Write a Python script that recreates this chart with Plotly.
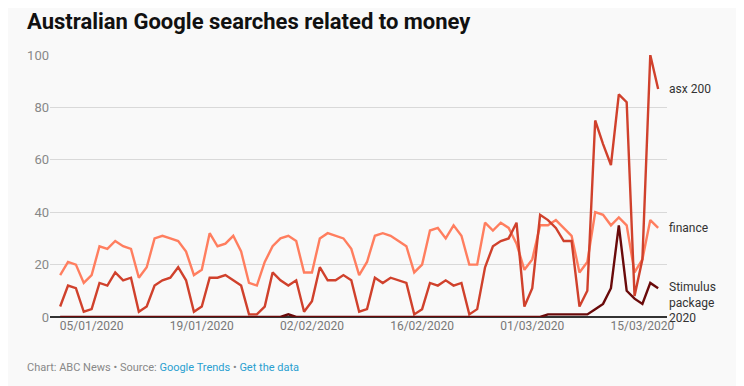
import plotly.graph_objects as go
import pandas as pd

dates = pd.date_range("2020-01-01", "2020-03-17", freq="D")

finance = [16, 21, 20, 13, 16, 27, 26, 29, 27, 26, 15, 19, 30, 31, 30, 29, 25, 16, 18, 32, 27, 28, 31, 25, 13, 12,
           21, 27, 30, 31, 29, 17, 17, 30, 32, 31, 30, 26, 16,
           21, 31, 32, 31, 29, 27, 17, 20, 33, 34, 30, 35, 31,
           20, 20, 36, 33, 36, 34, 28, 18, 22, 35, 35, 37,
           34, 31, 17, 21, 40, 39, 35, 38, 35, 17, 22, 37, 34]

asx200 = [4, 12, 11, 2, 3, 13, 12, 17, 14, 15, 2, 4, 12,
          14, 15, 19, 14, 2, 4, 15, 15, 16, 14, 12, 1, 1,
          4, 17, 14, 12, 14, 2, 6, 19, 14, 14, 16, 14, 2,
          3, 15, 13, 15, 14, 13, 1, 3, 13, 12, 14, 12, 13,
          1, 3, 19, 27, 29, 30, 36, 4, 11, 39, 37, 34,
          29, 29, 4, 10, 75, 66, 58, 85, 82, 8, 22, 100, 87]

stimulus = [0] * 29 + [1] + [0] * 32 + [1, 1, 1, 1, 1, 1, 3, 5, 11, 35, 10, 7, 5, 13, 11]

series_names = ["finance", "asx 200", "Stimulus<br>package<br>2020"]
series_values = [finance, asx200, stimulus]
series_colors = ["#FF7E5F", "#D0412C", "#6A0A0A"]

y_ticks = [0, 20, 40, 60, 80, 100]

fig = go.Figure()
for name, vals, col in zip(series_names, series_values, series_colors):
    fig.add_trace(go.Scatter(x=dates, y=vals, mode="lines", name=name,
                             line=dict(color=col, width=2.4), cliponaxis=False,
                             hoverinfo="skip"))

for name, vals, dy in zip(series_names, series_values, [0, 0, -14]):
    fig.add_annotation(x=dates[-1], y=vals[-1], text=name, showarrow=False,
                       xanchor="left", yanchor="middle", xshift=9, yshift=dy,
                       align="left",
                       font=dict(family="Roboto", size=12, color="#333333"))

fig.add_annotation(xref="paper", yref="paper", x=-0.0405, y=1.126,
                   text="<b>Australian Google searches related to money</b>",
                   showarrow=False, xanchor="left", yanchor="middle",
                   font=dict(family="Roboto", size=22, color="#111111"))

fig.add_annotation(xref="paper", yref="paper", x=-0.0405, y=-0.191,
                   text="Chart: ABC News • Source: <span style='color:#2A9FD0'>Google Trends</span> • <span style='color:#2A9FD0'>Get the data</span>",
                   showarrow=False, xanchor="left", yanchor="middle",
                   font=dict(family="Roboto", size=11, color="#888888"))

fig.update_layout(
    width=736, height=378,
    margin=dict(l=42, r=77, t=47, b=69),
    paper_bgcolor="#F9F9F9", plot_bgcolor="#F9F9F9",
    showlegend=False,
    xaxis=dict(type="date",
               range=[pd.Timestamp("2019-12-31") - pd.Timedelta(hours=7), pd.Timestamp("2020-03-18") + pd.Timedelta(hours=3)],
               tick0="2020-01-05", dtick=14 * 86400000, tickformat="%d/%m/%Y",
               showgrid=False, zeroline=False, showline=False,
               ticks="", tickfont=dict(family="Roboto", size=12, color="#777777")),
    yaxis=dict(range=[0, 100], tickvals=y_ticks, showgrid=True, gridcolor="#D9D9D9", gridwidth=1,
               zeroline=True, zerolinecolor="#333333", zerolinewidth=1.5,
               showline=False, ticks="",
               tickfont=dict(family="Roboto", size=13, color="#888888")),
)

fig.write_html("out.html")
